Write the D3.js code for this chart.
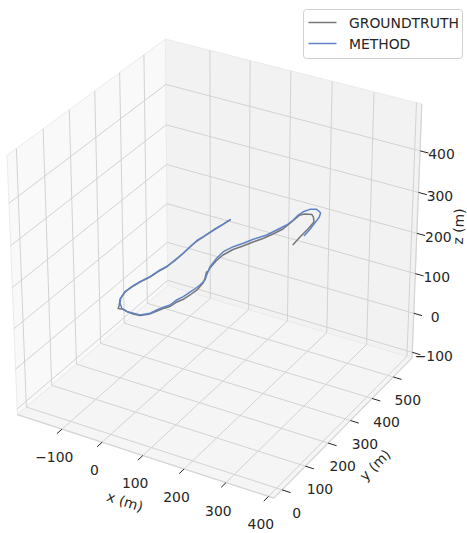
<!DOCTYPE html>
<html lang="en">
<head>
<meta charset="utf-8">
<title>Trajectory 3D</title>
<style>
  body { margin: 0; background: #fff; }
  svg text { font-family: "DejaVu Sans", sans-serif; font-size: 13.9px; fill: #262626; }
</style>
</head>
<body>
<div id="graph-div"></div>
<script src="https://cdn.jsdelivr.net/npm/d3@7"></script>
<script>

// axis limits and ticks (m)
var xLimits = [-200, 400], yLimits = [-22, 578], zLimits = [-102, 498];
var xTicks = [-100, 0, 100, 200, 300, 400];
var yTicks = [0, 100, 200, 300, 400, 500];
var zTicks = [-100, 0, 100, 200, 300, 400];
var axisNames = ["x (m)", "y (m)", "z (m)"];

// ground truth trajectory
var gtX = [34.4, 31.0, 25.9, 22.4, 19.2, 19.4, 20.6, 20.7, 19.4, 15.3, 11.1, 3.7, 0.0, -1.9, 4.0, 17.0, 20.5, 31.1, 42.8, 58.6,
           74.1, 88.7, 95.0, 100.5, 108.9, 112.1, 118.4, 121.0, 123.2, 119.6, 112.8, 103.0, 104.6, 100.9, 97.1, 97.3, 104.0, 114.9, 124.9, 136.0,
           145.0, 153.0, 154.2, 155.0, 162.3, 176.5, 184.6, 196.1, 199.6, 201.5, 204.6];
var gtY = [447.4, 420.0, 385.6, 353.4, 329.0, 299.3, 267.9, 234.6, 203.8, 182.1, 148.4, 120.3, 94.5, 69.8, 40.5, 15.5, 6.0, 8.4, 5.1, 2.8,
           4.9, 20.2, 37.5, 52.2, 66.2, 88.9, 106.5, 126.7, 151.5, 182.5, 202.4, 225.5, 228.8, 243.6, 275.4, 304.8, 335.7, 359.4, 385.1, 409.0,
           436.8, 466.5, 500.2, 539.1, 548.4, 554.1, 545.9, 527.0, 493.4, 454.2, 416.2];
var gtZ = [198, 198, 198, 198, 198, 198, 198, 198, 198, 198, 198, 198, 198, 198, 198, 198, 198, 198, 198, 198,
           198, 198, 198, 198, 198, 198, 198, 198, 198, 198, 198, 198, 198, 198, 198, 198, 198, 198, 198, 198,
           198, 198, 198, 198, 198, 198, 198, 198, 198, 198, 198];

// estimated trajectory
var estX = [34.4, 30.9, 25.4, 21.5, 18.0, 18.7, 20.7, 20.0, 19.3, 14.2, 10.4, 3.1, -1.2, -2.5, 3.8, 13.1, 26.7, 42.7, 57.7, 73.1,
            87.3, 92.4, 98.6, 105.8, 107.4, 112.4, 116.6, 118.3, 117.0, 109.6, 98.2, 92.7, 90.8, 98.5, 109.8, 119.8, 135.5, 143.4, 151.5, 153.1,
            151.8, 154.2, 161.7, 174.3, 189.0, 196.1, 199.5, 204.0, 206.8];
var estY = [447.4, 421.4, 387.8, 351.9, 329.8, 300.4, 269.0, 235.7, 202.7, 183.9, 149.5, 121.3, 95.2, 70.8, 43.6, 25.7, 10.5, 4.1, 5.4, 6.5,
            22.5, 40.5, 56.6, 71.3, 95.6, 113.8, 147.7, 172.2, 195.2, 214.9, 248.3, 286.0, 317.3, 346.5, 369.8, 395.6, 426.2, 456.0, 486.0, 512.4,
            537.3, 555.5, 572.3, 579.6, 570.6, 551.1, 525.4, 494.5, 462.3];
var estZ = [198, 198, 198, 198, 198, 198, 198, 198, 198, 198, 198, 198, 198, 198, 198, 198, 198, 198, 198, 198,
            198, 198, 198, 198, 198, 198, 198, 198, 198, 198, 198, 198, 198, 198, 198, 198, 198, 198, 198, 198,
            198, 198, 198, 198, 198, 198, 198, 198, 198];

var seriesNames = ["GROUNDTRUTH", "METHOD"];
var seriesColors = ["#777777", "#5f83c6"];

var width = 467, height = 533;

// camera like matplotlib's default 3d view
var elev = 30 * Math.PI / 180, azim = -60 * Math.PI / 180, dist = 10;
var zoomScale = 2960, cx = 217.8, cy = 260.8;

function padded(l) { var p = (l[1] - l[0]) / 48; return [l[0] - p, l[1] + p]; }
var xb = padded(xLimits), yb = padded(yLimits), zb = padded(zLimits);

var nx = d3.scaleLinear().domain(xb).range([-0.5, 0.5]);
var ny = d3.scaleLinear().domain(yb).range([-0.5, 0.5]);
var nz = d3.scaleLinear().domain(zb).range([-0.5, 0.5]);

var w = [Math.cos(elev) * Math.cos(azim), Math.cos(elev) * Math.sin(azim), Math.sin(elev)];
var u = [-Math.sin(azim), Math.cos(azim), 0];
var v = [-Math.sin(elev) * Math.cos(azim), -Math.sin(elev) * Math.sin(azim), Math.cos(elev)];

function dot(a, b) { return a[0] * b[0] + a[1] * b[1] + a[2] * b[2]; }

function project(x, y, z) {
  var d = [nx(x), ny(y), nz(z)];
  var den = dist - dot(w, d);
  return [cx + zoomScale * dot(u, d) / den, cy - zoomScale * dot(v, d) / den];
}

var line = d3.line();

var svg = d3.select("#graph-div")
  .append("svg")
    .attr("width", width)
    .attr("height", height);

// panes
var panes = [
  { pts: [[xb[0], yb[0], zb[0]], [xb[0], yb[1], zb[0]], [xb[0], yb[1], zb[1]], [xb[0], yb[0], zb[1]]], fill: "#f9f9f9" },
  { pts: [[xb[0], yb[1], zb[0]], [xb[1], yb[1], zb[0]], [xb[1], yb[1], zb[1]], [xb[0], yb[1], zb[1]]], fill: "#f2f2f2" },
  { pts: [[xb[0], yb[0], zb[0]], [xb[1], yb[0], zb[0]], [xb[1], yb[1], zb[0]], [xb[0], yb[1], zb[0]]], fill: "#f5f5f5" }
];
svg.selectAll("path.pane")
  .data(panes)
  .enter()
  .append("path")
    .attr("class", "pane")
    .attr("d", function(p) { return line(p.pts.map(function(q) { return project(q[0], q[1], q[2]); })) + "Z"; })
    .style("fill", function(p) { return p.fill; })
    .style("stroke", "#ebebeb")
    .style("stroke-width", 1);

// grid lines
var grid = [];
xTicks.forEach(function(t) { grid.push([[t, yb[0], zb[0]], [t, yb[1], zb[0]], [t, yb[1], zb[1]]]); });
yTicks.forEach(function(t) { grid.push([[xb[1], t, zb[0]], [xb[0], t, zb[0]], [xb[0], t, zb[1]]]); });
zTicks.forEach(function(t) { grid.push([[xb[0], yb[0], t], [xb[0], yb[1], t], [xb[1], yb[1], t]]); });
svg.selectAll("path.grid")
  .data(grid)
  .enter()
  .append("path")
    .attr("class", "grid")
    .attr("d", function(g) { return line(g.map(function(q) { return project(q[0], q[1], q[2]); })); })
    .style("fill", "none")
    .style("stroke", "#d2d2d2")
    .style("stroke-width", 1);

// axis lines
var axisLines = [
  [[xb[0], yb[0], zb[0]], [xb[1], yb[0], zb[0]]],
  [[xb[1], yb[0], zb[0]], [xb[1], yb[1], zb[0]]],
  [[xb[1], yb[1], zb[0]], [xb[1], yb[1], zb[1]]]
];
svg.selectAll("path.axisline")
  .data(axisLines)
  .enter()
  .append("path")
    .attr("d", function(g) { return line(g.map(function(q) { return project(q[0], q[1], q[2]); })); })
    .style("stroke", "#d4d4d4")
    .style("stroke-width", 1.2);

// ticks and tick labels
var tickLen = 20;
function fmt(t) { return t < 0 ? "\u2212" + Math.abs(t) : String(t); }

var tickDefs = [];
xTicks.forEach(function(t) {
  tickDefs.push({ a: [t, yb[0], zb[0]], b: [t, yb[0] - tickLen, zb[0]], off: [-7.7, 28], label: fmt(t) });
});
yTicks.forEach(function(t) {
  tickDefs.push({ a: [xb[1], t, zb[0]], b: [xb[1] + tickLen, t, zb[0]], off: [14.5, 23.3], label: fmt(t) });
});
zTicks.forEach(function(t) {
  tickDefs.push({ a: [xb[1], yb[1], t], b: [xb[1] + tickLen, yb[1], t], off: [21.5, 3.4], label: fmt(t) });
});

var tickG = svg.append("g");
tickDefs.forEach(function(d) {
  var p0 = project(d.a[0], d.a[1], d.a[2]);
  var p1 = project(d.b[0], d.b[1], d.b[2]);
  tickG.append("line")
    .attr("x1", p0[0]).attr("y1", p0[1])
    .attr("x2", p1[0]).attr("y2", p1[1])
    .style("stroke", "#262626")
    .style("stroke-width", 1);
  tickG.append("text")
    .attr("x", p0[0] + d.off[0])
    .attr("y", p0[1] + d.off[1])
    .attr("text-anchor", "middle")
    .attr("dominant-baseline", "central")
    .text(d.label);
});

// axis labels, rotated along their edge
function edgeAngle(a, b) {
  var p = project(a[0], a[1], a[2]), q = project(b[0], b[1], b[2]);
  return Math.atan2(q[1] - p[1], q[0] - p[0]) * 180 / Math.PI;
}
var axisLabelDefs = [
  { text: axisNames[0], pos: [125, 501.5], rot: edgeAngle(axisLines[0][0], axisLines[0][1]) },
  { text: axisNames[1], pos: [375, 465], rot: edgeAngle(axisLines[1][0], axisLines[1][1]) },
  { text: axisNames[2], pos: [458.5, 226.5], rot: edgeAngle(axisLines[2][0], axisLines[2][1]) }
];
svg.selectAll("text.axlabel")
  .data(axisLabelDefs)
  .enter()
  .append("text")
    .attr("class", "axlabel")
    .attr("text-anchor", "middle")
    .attr("dominant-baseline", "central")
    .attr("transform", function(d) { return "translate(" + d.pos[0] + "," + d.pos[1] + ") rotate(" + d.rot + ")"; })
    .text(function(d) { return d.text; });

// trajectories
var series = [
  { xs: gtX, ys: gtY, zs: gtZ },
  { xs: estX, ys: estY, zs: estZ }
];
svg.selectAll("path.traj")
  .data(series)
  .enter()
  .append("path")
    .attr("class", "traj")
    .attr("d", function(s) {
      return line(s.xs.map(function(x, i) { return project(x, s.ys[i], s.zs[i]); }));
    })
    .style("fill", "none")
    .style("stroke", function(s, i) { return seriesColors[i]; })
    .style("stroke-width", 1.5)
    .style("stroke-linejoin", "round");

// legend
var legend = svg.append("g");
legend.append("rect")
  .attr("x", 303.5).attr("y", 9.5)
  .attr("width", 159).attr("height", 49)
  .attr("rx", 3)
  .style("fill", "#fff")
  .style("stroke", "#d0d0d0")
  .style("stroke-width", 1);
seriesNames.forEach(function(name, i) {
  var yy = 22.5 + i * 21;
  legend.append("line")
    .attr("x1", 308.5).attr("x2", 336.5)
    .attr("y1", yy).attr("y2", yy)
    .style("stroke", seriesColors[i])
    .style("stroke-width", 1.5);
  legend.append("text")
    .attr("x", 349)
    .attr("y", yy)
    .attr("dominant-baseline", "central")
    .text(name);
});

</script>
</body>
</html>
